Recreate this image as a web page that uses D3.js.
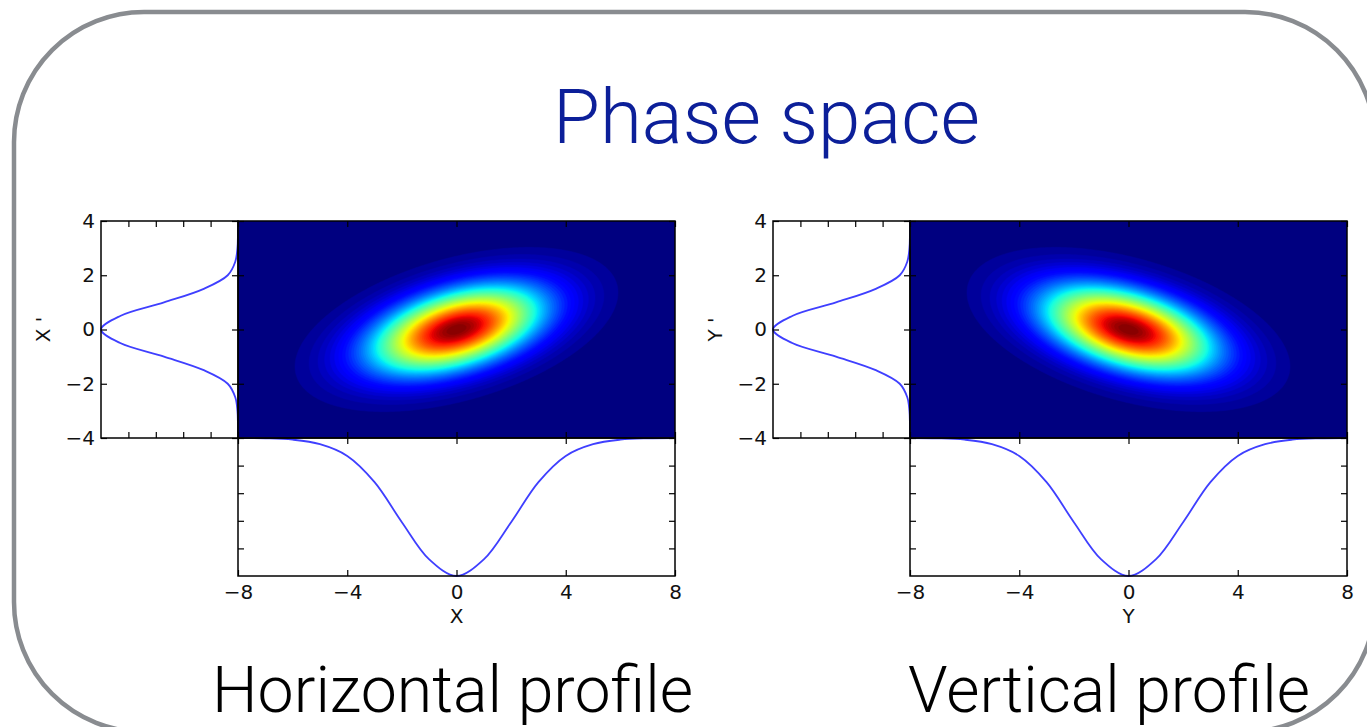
<!DOCTYPE html>
<html>
<head>
<meta charset="utf-8">
<style>
  body { margin: 0; background: white; }
  svg text { font-family: "DejaVu Sans", sans-serif; }
  .big { font-family: Roboto, "Open Sans", Lato, sans-serif; font-weight: 300; }
</style>
</head>
<body>
<div id="chart"></div>
<script src="https://d3js.org/d3.v7.min.js"></script>
<script>
const width = 1367
const height = 727

const titleText = "Phase space"
const planes = ["X", "Y"]
const captions = ["Horizontal profile", "Vertical profile"]
const posTicks = [-8, -4, 0, 4, 8]
const angTicks = [4, 2, 0, -2, -4]
const margTicks = [0.2, 0.4, 0.6, 0.8]

// projected profiles (peak = 1)
const posSamples = [-8, -7, -6, -5, -4, -3, -2, -1, 0, 1, 2, 3, 4, 5, 6, 7, 8]
const posProfile = [
  [0, 0.002, 0.012, 0.045, 0.13, 0.32, 0.61, 0.88, 1, 0.88, 0.61, 0.32, 0.13, 0.045, 0.012, 0.002, 0],
  [0, 0.002, 0.012, 0.045, 0.13, 0.32, 0.61, 0.88, 1, 0.88, 0.61, 0.32, 0.13, 0.045, 0.012, 0.002, 0]
]
const angSamples = [-4, -3.5, -3, -2.5, -2, -1.5, -1, -0.5, 0, 0.5, 1, 1.5, 2, 2.5, 3, 3.5, 4]
const angProfile = [
  [0, 0.0005, 0.004, 0.02, 0.075, 0.25, 0.54, 0.86, 1, 0.86, 0.54, 0.25, 0.075, 0.02, 0.004, 0.0005, 0],
  [0, 0.0005, 0.004, 0.02, 0.075, 0.25, 0.54, 0.86, 1, 0.86, 0.54, 0.25, 0.075, 0.02, 0.004, 0.0005, 0]
]

// density ellipse of each plane
const sigmaPos = [2.05, 2.05]
const sigmaAng = [1.05, 1.05]
const corr = [0.45, -0.45]
const nLevels = 64

// matplotlib "jet"
const jetStops = [0, 0.11, 0.125, 0.34, 0.35, 0.375, 0.64, 0.65, 0.66, 0.89, 0.91, 1]
const jetColors = ["#000080", "#0000ff", "#0000ff", "#00dbff", "#00e6f7", "#15ffe2",
  "#efff08", "#f7f500", "#ffec00", "#ff1300", "#e80000", "#800000"]
const jet = d3.scaleLinear().domain(jetStops).range(jetColors).clamp(true)

// layout
const panelLeft = [101, 773]
const panelTop = 221
const margW = 137
const heatW = 437
const heatH = 217
const botH = 138
const fontPx = "20px"

let svg = d3.select("#chart").append("svg")
  .attr("width", width)
  .attr("height", height)

svg.append("rect")
  .attr("x", 14).attr("y", 12)
  .attr("width", 1361).attr("height", 720)
  .attr("rx", 130).attr("ry", 130)
  .attr("fill", "white")
  .attr("stroke", "#898c90")
  .attr("stroke-width", 4.5)

function fitText(sel, target) {
  let len = sel.node().getComputedTextLength()
  sel.style("font-size", (60 * target / len) + "px")
}

let title = svg.append("text")
  .attr("class", "big")
  .attr("x", 766.5).attr("y", 143)
  .attr("text-anchor", "middle")
  .attr("fill", "#0c1f99")
  .style("font-size", "60px")
  .text(titleText)
fitText(title, 427)

const captionX = [212, 908]
const captionW = [481, 402]

let line = d3.line().curve(d3.curveCatmullRom)

function ticks(g, axis, tx, ty) {
  let a = g.append("g")
    .attr("transform", `translate(${tx},${ty})`)
    .call(axis)
  a.select(".domain").remove()
  a.selectAll(".tick line").attr("stroke", "black").attr("stroke-width", 1.2)
  a.selectAll("text").attr("fill", "#111").style("font-size", fontPx)
  return a
}

planes.forEach((name, i) => {
  const x0 = panelLeft[i]
  const hx = x0 + margW
  const hb = panelTop + heatH
  let g = svg.append("g")

  let xs = d3.scaleLinear().domain([-8, 8]).range([hx, hx + heatW])
  let ys = d3.scaleLinear().domain([-4, 4]).range([hb, panelTop])
  let ms = d3.scaleLinear().domain([0, 1]).range([hx, x0])
  let bs = d3.scaleLinear().domain([0, 1]).range([hb, hb + botH])

  // density map
  const n = 220, m = 110
  let vals = new Array(n * m)
  const sx = sigmaPos[i], sy = sigmaAng[i], r = corr[i]
  for (let j = 0; j < m; j++) {
    for (let k = 0; k < n; k++) {
      let u = xs.invert(hx + (k + 0.5) * heatW / n) / sx
      let v = ys.invert(panelTop + (j + 0.5) * heatH / m) / sy
      let q = (u * u - 2 * r * u * v + v * v) / (1 - r * r)
      vals[j * n + k] = Math.exp(-q / 2)
    }
  }
  let levels = d3.range(1, nLevels).map(l => l / nLevels)
  let contours = d3.contours().size([n, m]).thresholds(levels)(vals)
  let proj = d3.geoTransform({
    point: function (px, py) {
      this.stream.point(hx + px * heatW / n, panelTop + py * heatH / m)
    }
  })
  let path = d3.geoPath(proj)

  g.append("clipPath").attr("id", "clip" + i)
    .append("rect").attr("x", hx).attr("y", panelTop).attr("width", heatW).attr("height", heatH)

  let heat = g.append("g").attr("clip-path", `url(#clip${i})`)
  heat.append("rect")
    .attr("x", hx).attr("y", panelTop).attr("width", heatW).attr("height", heatH)
    .attr("fill", jet(0))
  heat.selectAll("path")
    .data(contours)
    .enter().append("path")
    .attr("d", path)
    .attr("fill", d => jet(d.value + 0.5 / nLevels))
    .attr("stroke", d => jet(d.value + 0.5 / nLevels))
    .attr("stroke-width", 0.5)

  // profiles
  g.append("path")
    .attr("d", line(posSamples.map((p, k) => [xs(p), bs(posProfile[i][k])])))
    .attr("fill", "none")
    .attr("stroke", "#3f3fff")
    .attr("stroke-width", 1.8)
  g.append("path")
    .attr("d", line(angSamples.map((p, k) => [ms(angProfile[i][k]), ys(p)])))
    .attr("fill", "none")
    .attr("stroke", "#3f3fff")
    .attr("stroke-width", 1.8)

  // ticks, all pointing inward
  const tl = 6
  ticks(g, d3.axisTop(xs).tickValues(posTicks).tickSize(-tl).tickFormat(""), 0, panelTop)
  ticks(g, d3.axisBottom(xs).tickValues(posTicks).tickSize(-tl).tickFormat(""), 0, hb)
  ticks(g, d3.axisTop(xs).tickValues(posTicks).tickSize(-tl).tickFormat(""), 0, hb)
  ticks(g, d3.axisLeft(ys).tickValues(angTicks).tickSize(-tl).tickFormat(""), hx, 0)
  ticks(g, d3.axisRight(ys).tickValues(angTicks).tickSize(-tl).tickFormat(""), hx + heatW, 0)
  ticks(g, d3.axisRight(ys).tickValues(angTicks).tickSize(-tl).tickFormat(""), hx, 0)
  ticks(g, d3.axisLeft(ys).tickValues(angTicks).tickSize(-tl).tickPadding(6), x0, 0)
  ticks(g, d3.axisTop(ms).tickValues(margTicks).tickSize(-tl).tickFormat(""), 0, panelTop)
  ticks(g, d3.axisBottom(ms).tickValues(margTicks).tickSize(-tl).tickFormat(""), 0, hb)
  ticks(g, d3.axisLeft(bs).tickValues(margTicks).tickSize(-tl).tickFormat(""), hx, 0)
  ticks(g, d3.axisRight(bs).tickValues(margTicks).tickSize(-tl).tickFormat(""), hx + heatW, 0)
  ticks(g, d3.axisBottom(xs).tickValues(posTicks).tickSize(-tl).tickPadding(9), 0, hb + botH)

  // frames
  g.append("rect").attr("x", x0).attr("y", panelTop).attr("width", margW).attr("height", heatH)
    .attr("fill", "none").attr("stroke", "black").attr("stroke-width", 1.5)
  g.append("rect").attr("x", hx).attr("y", panelTop).attr("width", heatW).attr("height", heatH)
    .attr("fill", "none").attr("stroke", "black").attr("stroke-width", 1.5)
  g.append("rect").attr("x", hx).attr("y", hb).attr("width", heatW).attr("height", botH)
    .attr("fill", "none").attr("stroke", "black").attr("stroke-width", 1.5)

  // axis labels
  g.append("text")
    .attr("x", xs(0)).attr("y", hb + botH + 41)
    .attr("text-anchor", "middle")
    .attr("dominant-baseline", "middle")
    .attr("fill", "#111")
    .style("font-size", fontPx)
    .text(name)
  g.append("text")
    .attr("transform", `translate(${x0 - 57},${panelTop + heatH / 2}) rotate(-90)`)
    .attr("text-anchor", "middle")
    .attr("dominant-baseline", "middle")
    .attr("fill", "#111")
    .style("font-size", fontPx)
    .text(name + " '")

  let cap = svg.append("text")
    .attr("class", "big")
    .attr("x", captionX[i]).attr("y", 712)
    .attr("fill", "black")
    .style("font-size", "60px")
    .text(captions[i])
  fitText(cap, captionW[i])
})
</script>
</body>
</html>
